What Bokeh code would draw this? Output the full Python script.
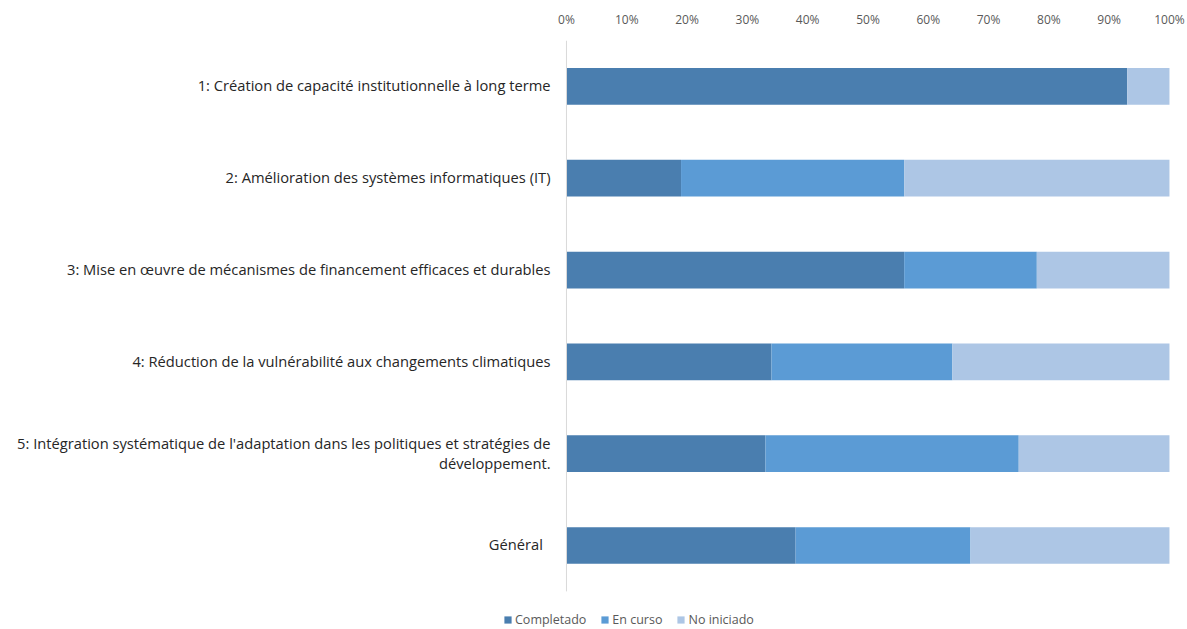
from bokeh.plotting import figure
from bokeh.models import Range1d, FixedTicker, Legend, LegendItem, ColumnDataSource
from bokeh.core.properties import value
from bokeh.embed import file_html
from bokeh.resources import INLINE

categories = [
    "1: Création de capacité institutionnelle à long terme",
    "2: Amélioration des systèmes informatiques (IT)",
    "3: Mise en œuvre de mécanismes de financement efficaces et durables",
    "4: Réduction de la vulnérabilité aux changements climatiques",
    "5: Intégration systématique de l'adaptation dans les politiques et stratégies de\ndéveloppement.",
    "Général  ",
]
completado = [93, 19, 56, 34, 33, 38]
en_curso = [0, 37, 22, 30, 42, 29]
no_iniciado = [7, 44, 22, 36, 25, 33]
series_names = ["Completado", "En curso", "No iniciado"]
colors = ["#4A7EAF", "#5B9BD5", "#ADC6E5"]
tick_values = [0, 10, 20, 30, 40, 50, 60, 70, 80, 90, 100]
tick_labels = ["0%", "10%", "20%", "30%", "40%", "50%", "60%", "70%", "80%", "90%", "100%"]

FONT = "Open Sans"
n = len(categories)

source = ColumnDataSource(dict(
    pos=list(range(n)),
    cat=categories,
    Completado=completado,
    En_curso=en_curso,
    No_iniciado=no_iniciado,
))

p = figure(
    width=1187, height=629,
    x_range=Range1d(-93.86, 101.33),
    y_range=Range1d(n - 0.085, -0.5),
    x_axis_location="above", y_axis_location=None,
    output_backend="svg", toolbar_location=None,
    min_border_left=0, min_border_right=10, min_border_top=40, min_border_bottom=0,
)
p.outline_line_color = None
p.xgrid.visible = False
p.ygrid.visible = False

renderers = p.hbar_stack(["Completado", "En_curso", "No_iniciado"], y="pos", height=0.4,
                         color=colors, line_color=None, source=source)

# vertical category axis line at 0%
p.segment(x0=0, y0=-0.5, x1=0, y1=n - 0.5, line_color="#D9D9D9", line_width=1)

p.text(x=-2.65, y="pos", text="cat", source=source, text_align="right", text_baseline="middle",
       text_font=value(FONT), text_font_size="14.7px", text_color="#262626", text_line_height=1.0,
       y_offset=-1)

ax = p.xaxis[0]
ax.ticker = FixedTicker(ticks=tick_values)
ax.major_label_overrides = {v: l for v, l in zip(tick_values, tick_labels)}
ax.axis_line_color = None
ax.major_tick_line_color = None
ax.minor_tick_line_color = None
ax.major_label_standoff = 7
ax.major_label_text_font = FONT
ax.major_label_text_font_size = "12px"
ax.major_label_text_color = "#595959"

legend = Legend(
    items=[LegendItem(label=s, renderers=[r]) for s, r in zip(series_names, renderers)],
    orientation="horizontal", location=(503, 1),
    label_text_font=FONT, label_text_font_size="12.5px", label_text_color="#595959",
    glyph_width=9, glyph_height=9, label_standoff=3, spacing=14,
    margin=0, padding=0, border_line_color=None, background_fill_alpha=0,
    label_height=14,
)
p.add_layout(legend, "center")

open("out.html", "w").write(file_html(p, INLINE))
